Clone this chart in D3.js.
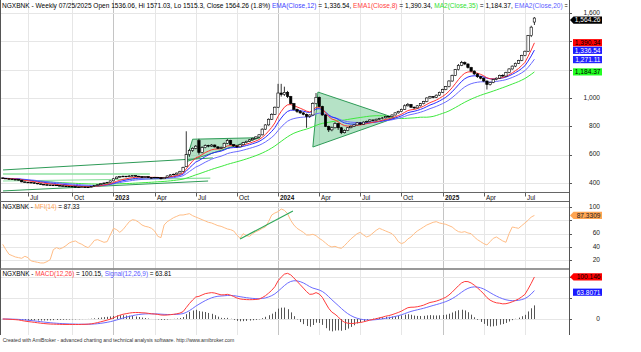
<!DOCTYPE html>
<html><head><meta charset="utf-8">
<script src="https://cdn.jsdelivr.net/npm/d3@7/dist/d3.min.js"></script>
<style>
html,body{margin:0;padding:0;background:#fff;}
svg{display:block;}
text{font-family:"Liberation Sans",Arial,Helvetica,sans-serif;white-space:pre;}
</style></head><body>
<svg id="chart" width="641" height="352"></svg>
<script>
// ---------------- DATA ----------------
const startDate = new Date(2022, 4, 6); // first weekly bar (Fri)
const closes = [433,430,428,425,424,420,408,405,404,402,
398,394,390,388,386,384,385,382,380,378,
377,376,374,372,370,372,369,371,375,382,
388,395,400,405,415,430,442,445,448,444,
450,452,448,446,440,445,438,436,440,438,
430,440,450,458,462,470,482,510,600,630,
645,660,615,650,665,660,668,655,645,650,
680,700,672,662,655,670,685,695,705,715,
725,740,780,810,850,885,935,1035,1025,1040,
1010,960,920,905,895,885,870,880,960,1005,
940,880,800,775,790,820,790,755,770,790,
800,810,825,815,830,835,845,840,850,855,
860,870,868,880,895,905,920,945,955,935,
930,945,960,975,1000,1010,1005,1020,1040,1060,
1080,1120,1160,1200,1230,1250,1240,1215,1190,1170,
1150,1140,1120,1095,1110,1130,1140,1160,1155,1180,
1205,1225,1245,1265,1300,1330,1440,1500,1564.26];
const opens = [436,433,430,428,425,424,420,408,405,404,
402,398,394,390,388,386,384,385,382,380,
378,377,376,374,372,370,372,369,371,375,
382,388,395,400,405,415,430,442,445,448,
444,450,452,448,446,440,445,438,436,440,
438,430,440,450,458,462,470,482,515,600,
630,645,700,615,650,665,660,668,655,645,
650,680,700,672,662,655,670,685,695,705,
715,725,740,780,810,850,885,935,1035,1025,
1040,1010,960,920,905,895,885,870,880,960,
1005,940,880,800,775,790,820,790,755,770,
790,800,810,825,815,830,835,845,840,850,
855,860,870,868,880,895,905,920,945,955,
935,930,945,960,975,1000,1010,1005,1020,1040,
1060,1080,1120,1160,1200,1230,1250,1240,1215,1190,
1170,1150,1140,1120,1095,1110,1130,1140,1160,1155,
1180,1205,1225,1245,1265,1300,1330,1440,1536.06];
const highs = [438,435,432,430,428,426,421,410,408,406,
404,400,396,392,390,388,388,386,384,382,
380,379,378,376,374,375,373,373,378,385,
391,398,403,408,418,434,446,450,452,450,
455,456,454,451,448,448,447,441,443,442,
440,443,453,462,466,474,486,515,765,640,
652,668,712,660,672,670,675,672,660,658,
686,710,705,675,666,675,690,698,710,720,
730,745,786,815,856,892,940,1100,1100,1080,
1050,1015,965,925,915,900,890,885,970,1035,
1010,945,885,805,798,830,825,795,778,795,
806,815,830,828,835,840,850,848,855,860,
865,875,874,885,900,910,925,955,965,958,
940,950,965,980,1005,1015,1014,1025,1045,1065,
1085,1125,1165,1205,1240,1262,1258,1245,1220,1195,
1175,1156,1145,1124,1115,1135,1145,1165,1168,1185,
1210,1230,1250,1270,1305,1335,1445,1510,1571.03];
const lows = [430,428,426,423,421,418,405,402,401,399,
395,391,387,385,383,381,382,379,377,375,
374,373,371,369,366,368,366,367,370,374,
380,386,393,398,403,413,428,438,441,440,
442,446,444,442,436,438,435,432,434,434,
426,428,438,448,455,460,468,480,512,585,
620,638,600,610,645,652,655,650,640,640,
648,675,668,655,648,652,665,680,690,700,
710,720,736,775,805,845,880,930,1010,1015,
1000,955,912,895,888,878,790,860,875,955,
935,875,795,760,765,785,775,745,750,766,
786,796,806,810,812,826,832,835,837,846,
850,856,862,865,876,890,900,916,940,930,
922,926,940,955,970,995,998,1000,1015,1035,
1055,1075,1115,1155,1195,1225,1232,1208,1182,1162,
1142,1132,1112,1060,1088,1105,1125,1135,1148,1150,
1175,1200,1218,1240,1260,1295,1325,1430,1515.3];
const mfi = [44,36,29,27,25,24,23,26,24,19,
18,17,16,16,18,21,36,39,37,39,
42,46,48,49,46,44,41,39,44,50,
51,49,47,48,58,68,66,62,66,72,
78,81,80,77,73,71,70,68,64,56,
54,73,78,81,84,86,88,88,89,90,
87,85,83,81,79,77,76,74,72,71,
69,67,66,64,58,53,60,57,56,60,
63,65,68,70,78,88,91,93,97,95,
90,80,73,68,65,62,58,58,59,57,
53,50,46,42,40,41,39,38,42,47,
52,56,60,62,58,55,57,61,65,68,
66,64,62,60,55,48,45,47,52,55,
60,64,67,70,73,75,77,78,76,75,
74,72,70,66,63,62,63,61,60,55,
51,48,45,43,48,53,55,52,49,47,
60,70,69,68,72,76,80,85,87.33];

const priceTicks = [400, 600, 800, 1000, 1200, 1400, 1600];
const mfiTicks = [20, 40, 60, 80, 100];
const macdTicks = [0, 50, 100];
// last values shown in the legends / axis tags
const lastPrice = 1564.26;
const lastEma12 = 1336.54, lastEma8 = 1390.34, lastMa35 = 1184.37, lastEma20 = 1271.11;
const lastMfi = 87.3309, lastMacd = 100.146, lastSignal = 63.8071;
// user-drawn studies, in (bar index, value)
const priceStudyLines = [
  {a:[0.1,492], b:[66.4,577], c:"#2e9b57", w:1},
  {a:[0.1,464], b:[46.5,464], c:"#8ee0a0", w:1.6},
  {a:[0.1,414], b:[65.6,435], c:"#8ee0a0", w:1.2},
  {a:[0.1,344], b:[64.9,414], c:"#2e9b57", w:1}
];
const flagTri = [[60.0,709],[81.3,720],[57.9,550]];
const bigTri = [[99.6,1042],[98.0,654],[123.9,859]];
const mfiStudyLine = {a:[75,52], b:[91.7,94]};

// ---------------- INDICATORS ----------------
function ema(arr, n){ const a = 2/(n+1); let e = arr[0]; return arr.map((v,i)=> (e = i===0 ? v : e + a*(v-e))); }
function sma(arr, n){ return arr.map((v,i)=> d3.mean(arr.slice(Math.max(0,i-n+1), i+1))); }
const ema12 = ema(closes,12), ema8 = ema(closes,8), ma35 = sma(closes,35), ema20 = ema(closes,20);
const ema26 = ema(closes,26);
const macd = ema12.map((v,i)=> v - ema26[i]);
const signal = ema(macd, 9);
const hist = macd.map((v,i)=> v - signal[i]);
const dates = closes.map((c,i)=> d3.timeDay.offset(startDate, 7*i));

// ---------------- LAYOUT ----------------
const plotR = 569;
const svg = d3.select("#chart");
const x = d3.scaleLinear().domain([-0.853, 178.93]).range([0, plotR]);
const yP = d3.scaleLinear().domain([400,1600]).range([183,13]);
const yM = d3.scaleLinear().domain([20,100]).range([260.3,207]);
const yD = d3.scaleLinear().domain([0,100]).range([319,277]);
const panels = {main:[0,192.5], mfi:[202.5,268.5], macd:[269.5,335]};

const defs = svg.append("defs");
Object.entries(panels).forEach(([k,[t,b]])=>{
  defs.append("clipPath").attr("id","clip-"+k).append("rect").attr("x",0).attr("y",t).attr("width",plotR).attr("height",b-t);
});
defs.append("clipPath").attr("id","clip-title").append("rect").attr("x",0).attr("y",0).attr("width",567.5).attr("height",12);

// quarter ticks
const qTicks = [];
dates.forEach((d,i)=>{ if(i===0) return; const m=d.getMonth(); if(m!==dates[i-1].getMonth() && m%3===0) qTicks.push({i, year:m===0, label: m===0 ? String(d.getFullYear()) : d3.timeFormat("%b")(d)}); });

// grid
const grid = svg.append("g");
Object.entries(panels).forEach(([k,[t,b]])=>{
  qTicks.forEach(q=>{
    grid.append("line").attr("x1",Math.round(x(q.i))+0.5).attr("x2",Math.round(x(q.i))+0.5).attr("y1",t).attr("y2",b)
      .attr("stroke", q.year ? "#c4c4c4" : "#e6e6e6").attr("stroke-width",1);
  });
});
function hgrid(ticks, y){ ticks.forEach(v=> grid.append("line").attr("x1",0).attr("x2",plotR).attr("y1",Math.round(y(v))+0.5).attr("y2",Math.round(y(v))+0.5).attr("stroke","#e6e6e6")); }
hgrid(priceTicks, yP); hgrid(mfiTicks, yM); hgrid(macdTicks, yD);

// ---------------- MAIN PANEL ----------------
const gm = svg.append("g").attr("clip-path","url(#clip-main)");
const tri = d3.line().x(d=>x(d[0])).y(d=>yP(d[1]));
gm.append("path").attr("d", tri(flagTri)+"Z").attr("fill","#5cbf80").attr("fill-opacity",0.45).attr("stroke","#2e9b57").attr("stroke-width",1);
gm.append("path").attr("d", tri(bigTri)+"Z").attr("fill","#5cbf80").attr("fill-opacity",0.45).attr("stroke","#2e9b57").attr("stroke-width",1);
priceStudyLines.forEach(l=> gm.append("line").attr("x1",x(l.a[0])).attr("y1",yP(l.a[1])).attr("x2",x(l.b[0])).attr("y2",yP(l.b[1])).attr("stroke",l.c).attr("stroke-width",l.w));

const lineP = arr => d3.line().x((d,i)=>x(i)).y(d=>yP(d))(arr);
gm.append("path").attr("d",lineP(ma35)).attr("fill","none").attr("stroke","#3ee83e").attr("stroke-width",1);
gm.append("path").attr("d",lineP(ema20)).attr("fill","none").attr("stroke","#6a6aff").attr("stroke-width",1);
gm.append("path").attr("d",lineP(ema12)).attr("fill","none").attr("stroke","#2b2bff").attr("stroke-width",1);
gm.append("path").attr("d",lineP(ema8)).attr("fill","none").attr("stroke","#ff3535").attr("stroke-width",1);

const candles = gm.append("g");
closes.forEach((c,i)=>{
  const o=opens[i], h=highs[i], l=lows[i], cx=x(i);
  candles.append("line").attr("x1",cx).attr("x2",cx).attr("y1",yP(h)).attr("y2",yP(l)).attr("stroke","#000").attr("stroke-width",0.8);
  const top=yP(Math.max(o,c)), bot=yP(Math.min(o,c));
  candles.append("rect").attr("x",cx-1.2).attr("width",2.4).attr("y",top).attr("height",Math.max(0.6,bot-top))
    .attr("fill", c>=o ? "#fff" : "#000").attr("stroke","#000").attr("stroke-width",0.6);
});

// ---------------- MFI PANEL ----------------
const gf = svg.append("g").attr("clip-path","url(#clip-mfi)");
gf.append("path").attr("d", d3.line().x((d,i)=>x(i)).y(d=>yM(d))(mfi)).attr("fill","none").attr("stroke","#ffbd86").attr("stroke-width",1);
gf.append("line").attr("x1",x(mfiStudyLine.a[0])).attr("y1",yM(mfiStudyLine.a[1])).attr("x2",x(mfiStudyLine.b[0])).attr("y2",yM(mfiStudyLine.b[1])).attr("stroke","#2fa85a").attr("stroke-width",1.2);

// ---------------- MACD PANEL ----------------
const gd = svg.append("g").attr("clip-path","url(#clip-macd)");
hist.forEach((h,i)=> gd.append("line").attr("x1",Math.round(x(i))+0.5).attr("x2",Math.round(x(i))+0.5).attr("y1",yD(0)).attr("y2",yD(h)).attr("stroke","#555").attr("stroke-width",1));
gd.append("path").attr("d", d3.line().x((d,i)=>x(i)).y(d=>yD(d))(signal)).attr("fill","none").attr("stroke","#6b6bff").attr("stroke-width",1);
gd.append("path").attr("d", d3.line().x((d,i)=>x(i)).y(d=>yD(d))(macd)).attr("fill","none").attr("stroke","#ff3b3b").attr("stroke-width",1);

// ---------------- FRAMES & AXES ----------------
const fr = svg.append("g");
fr.append("line").attr("x1",0.5).attr("x2",0.5).attr("y1",0).attr("y2",335).attr("stroke","#555");
fr.append("line").attr("x1",plotR+0.5).attr("x2",plotR+0.5).attr("y1",0).attr("y2",335).attr("stroke","#555");
[192.5, 201.5].forEach(yy=> fr.append("line").attr("x1",0).attr("x2",plotR).attr("y1",yy).attr("y2",yy).attr("stroke","#666").attr("stroke-width",1.2));
fr.append("line").attr("x1",0).attr("x2",plotR).attr("y1",269).attr("y2",269).attr("stroke","#777").attr("stroke-width",1.5);

// x-axis labels
const xa = svg.append("g");
qTicks.forEach(q=>{
  const px = Math.round(x(q.i))+0.5;
  xa.append("line").attr("x1",px).attr("x2",px).attr("y1",193).attr("y2",196.5).attr("stroke","#333").attr("stroke-width",0.8);
  xa.append("text").attr("x",px+1.5).attr("y",199.6).attr("font-size",6.4).attr("font-weight",q.year?"bold":"normal").attr("fill","#111").text(q.label);
});

// value tags (positions known first, so covered axis labels are not drawn)
const tags = [
  {y:yP(lastEma8), t:d3.format(",.2f")(lastEma8), bg:"#ff0000", fg:"#000", arrow:false},
  {y:yP(lastEma12), t:d3.format(",.2f")(lastEma12), bg:"#1a1aff", fg:"#fff", arrow:false},
  {y:yP(lastEma20), t:d3.format(",.2f")(lastEma20), bg:"#2323ff", fg:"#fff", arrow:false},
  {y:yP(lastMa35), t:d3.format(",.2f")(lastMa35), bg:"#22ff22", fg:"#000", arrow:false},
  {y:yP(lastPrice)+2, t:d3.format(",.2f")(lastPrice), bg:"#000", fg:"#fff", arrow:true},
  {y:yM(lastMfi), t:String(lastMfi), bg:"#ffa552", fg:"#222", arrow:true},
  {y:yD(lastMacd), t:String(lastMacd), bg:"#ff0000", fg:"#000", arrow:true},
  {y:yD(lastSignal), t:String(lastSignal), bg:"#1a1aff", fg:"#fff", arrow:false}
];

// right axis labels
const ra = svg.append("g");
function rAxis(ticks, y, fmt){
  ticks.forEach(v=>{
    const yy = y(v);
    ra.append("line").attr("x1",plotR).attr("x2",plotR+3).attr("y1",Math.round(yy)+0.5).attr("y2",Math.round(yy)+0.5).attr("stroke","#555");
    const near = tags.filter(tg=> Math.abs(tg.y - yy) < 7.5);
    if(near.length===0 || near.every(tg=> tg.y - yy > 6.2)){
      ra.append("text").attr("x",600).attr("y",yy+1.8).attr("text-anchor","end").attr("font-size",6.6).attr("fill","#222").text(fmt(v));
    }
  });
}
rAxis(priceTicks, yP, d3.format(","));
rAxis(mfiTicks, yM, d3.format("d"));
rAxis(macdTicks, yD, d3.format("d"));

tags.forEach(tg=>{
  const g = svg.append("g"), yy = tg.y;
  if(tg.arrow){
    g.append("path").attr("d",`M${plotR+1},${yy} L${plotR+4.5},${yy-3.6} L${602},${yy-3.6} L${602},${yy+3.6} L${plotR+4.5},${yy+3.6} Z`).attr("fill",tg.bg);
  } else {
    g.append("rect").attr("x",573).attr("y",yy-3.6).attr("width",29).attr("height",7.2).attr("fill",tg.bg);
  }
  g.append("text").attr("x",600.5).attr("y",yy+2.3).attr("text-anchor","end").attr("font-size",6.6).attr("fill",tg.fg).text(tg.t);
});

// ---------------- TITLES ----------------
function rich(segs, x0, y0, size, refIdx, refW, clip){
  const probe = svg.append("text").attr("font-size",size).text(segs.slice(0,refIdx+1).map(s=>s[0]).join(""));
  const w = probe.node().getComputedTextLength(); probe.remove();
  const sx = refW / w;
  const g = svg.append("g"); if(clip) g.attr("clip-path","url(#"+clip+")");
  const t = g.append("text").attr("font-size",size).attr("transform",`translate(${x0},${y0}) scale(${sx},1)`);
  segs.forEach(s=> t.append("tspan").attr("fill",s[1]).text(s[0]));
}
const fmt2 = d3.format(",.2f");
rich([["NGXBNK - Weekly 07/25/2025 Open 1536.06, Hi 1571.03, Lo 1515.3, Close 1564.26 (1.8%) ","#000"],
      ["EMA(Close,12)","#4040ff"],[" = "+fmt2(lastEma12)+", ","#000"],
      ["EMA1(Close,8)","#ff4040"],[" = "+fmt2(lastEma8)+", ","#000"],
      ["MA2(Close,35)","#2ee02e"],[" = "+fmt2(lastMa35)+", ","#000"],
      ["EMA2(Close,20)","#5a5aff"],[" = "+fmt2(lastEma20),"#000"]], 2, 7.6, 7.6, 0, 270, "clip-title");
rich([["NGXBNK - ","#000"],["MFI(14)","#ffa552"],[" = 87.33","#000"]], 2.5, 209.3, 7.2, 2, 77, null);
rich([["NGXBNK - ","#000"],["MACD(12,26)","#ff4040"],[" = 100.15, ","#000"],["Signal(12,26,9)","#5a5aff"],[" = 63.81","#000"]], 2.5, 275.6, 7.2, 4, 169, null);
rich([["Created with AmiBroker - advanced charting and technical analysis software. http://www.amibroker.com","#333"]], 2.7, 342, 6, 0, 232, null);
</script>
</body></html>
